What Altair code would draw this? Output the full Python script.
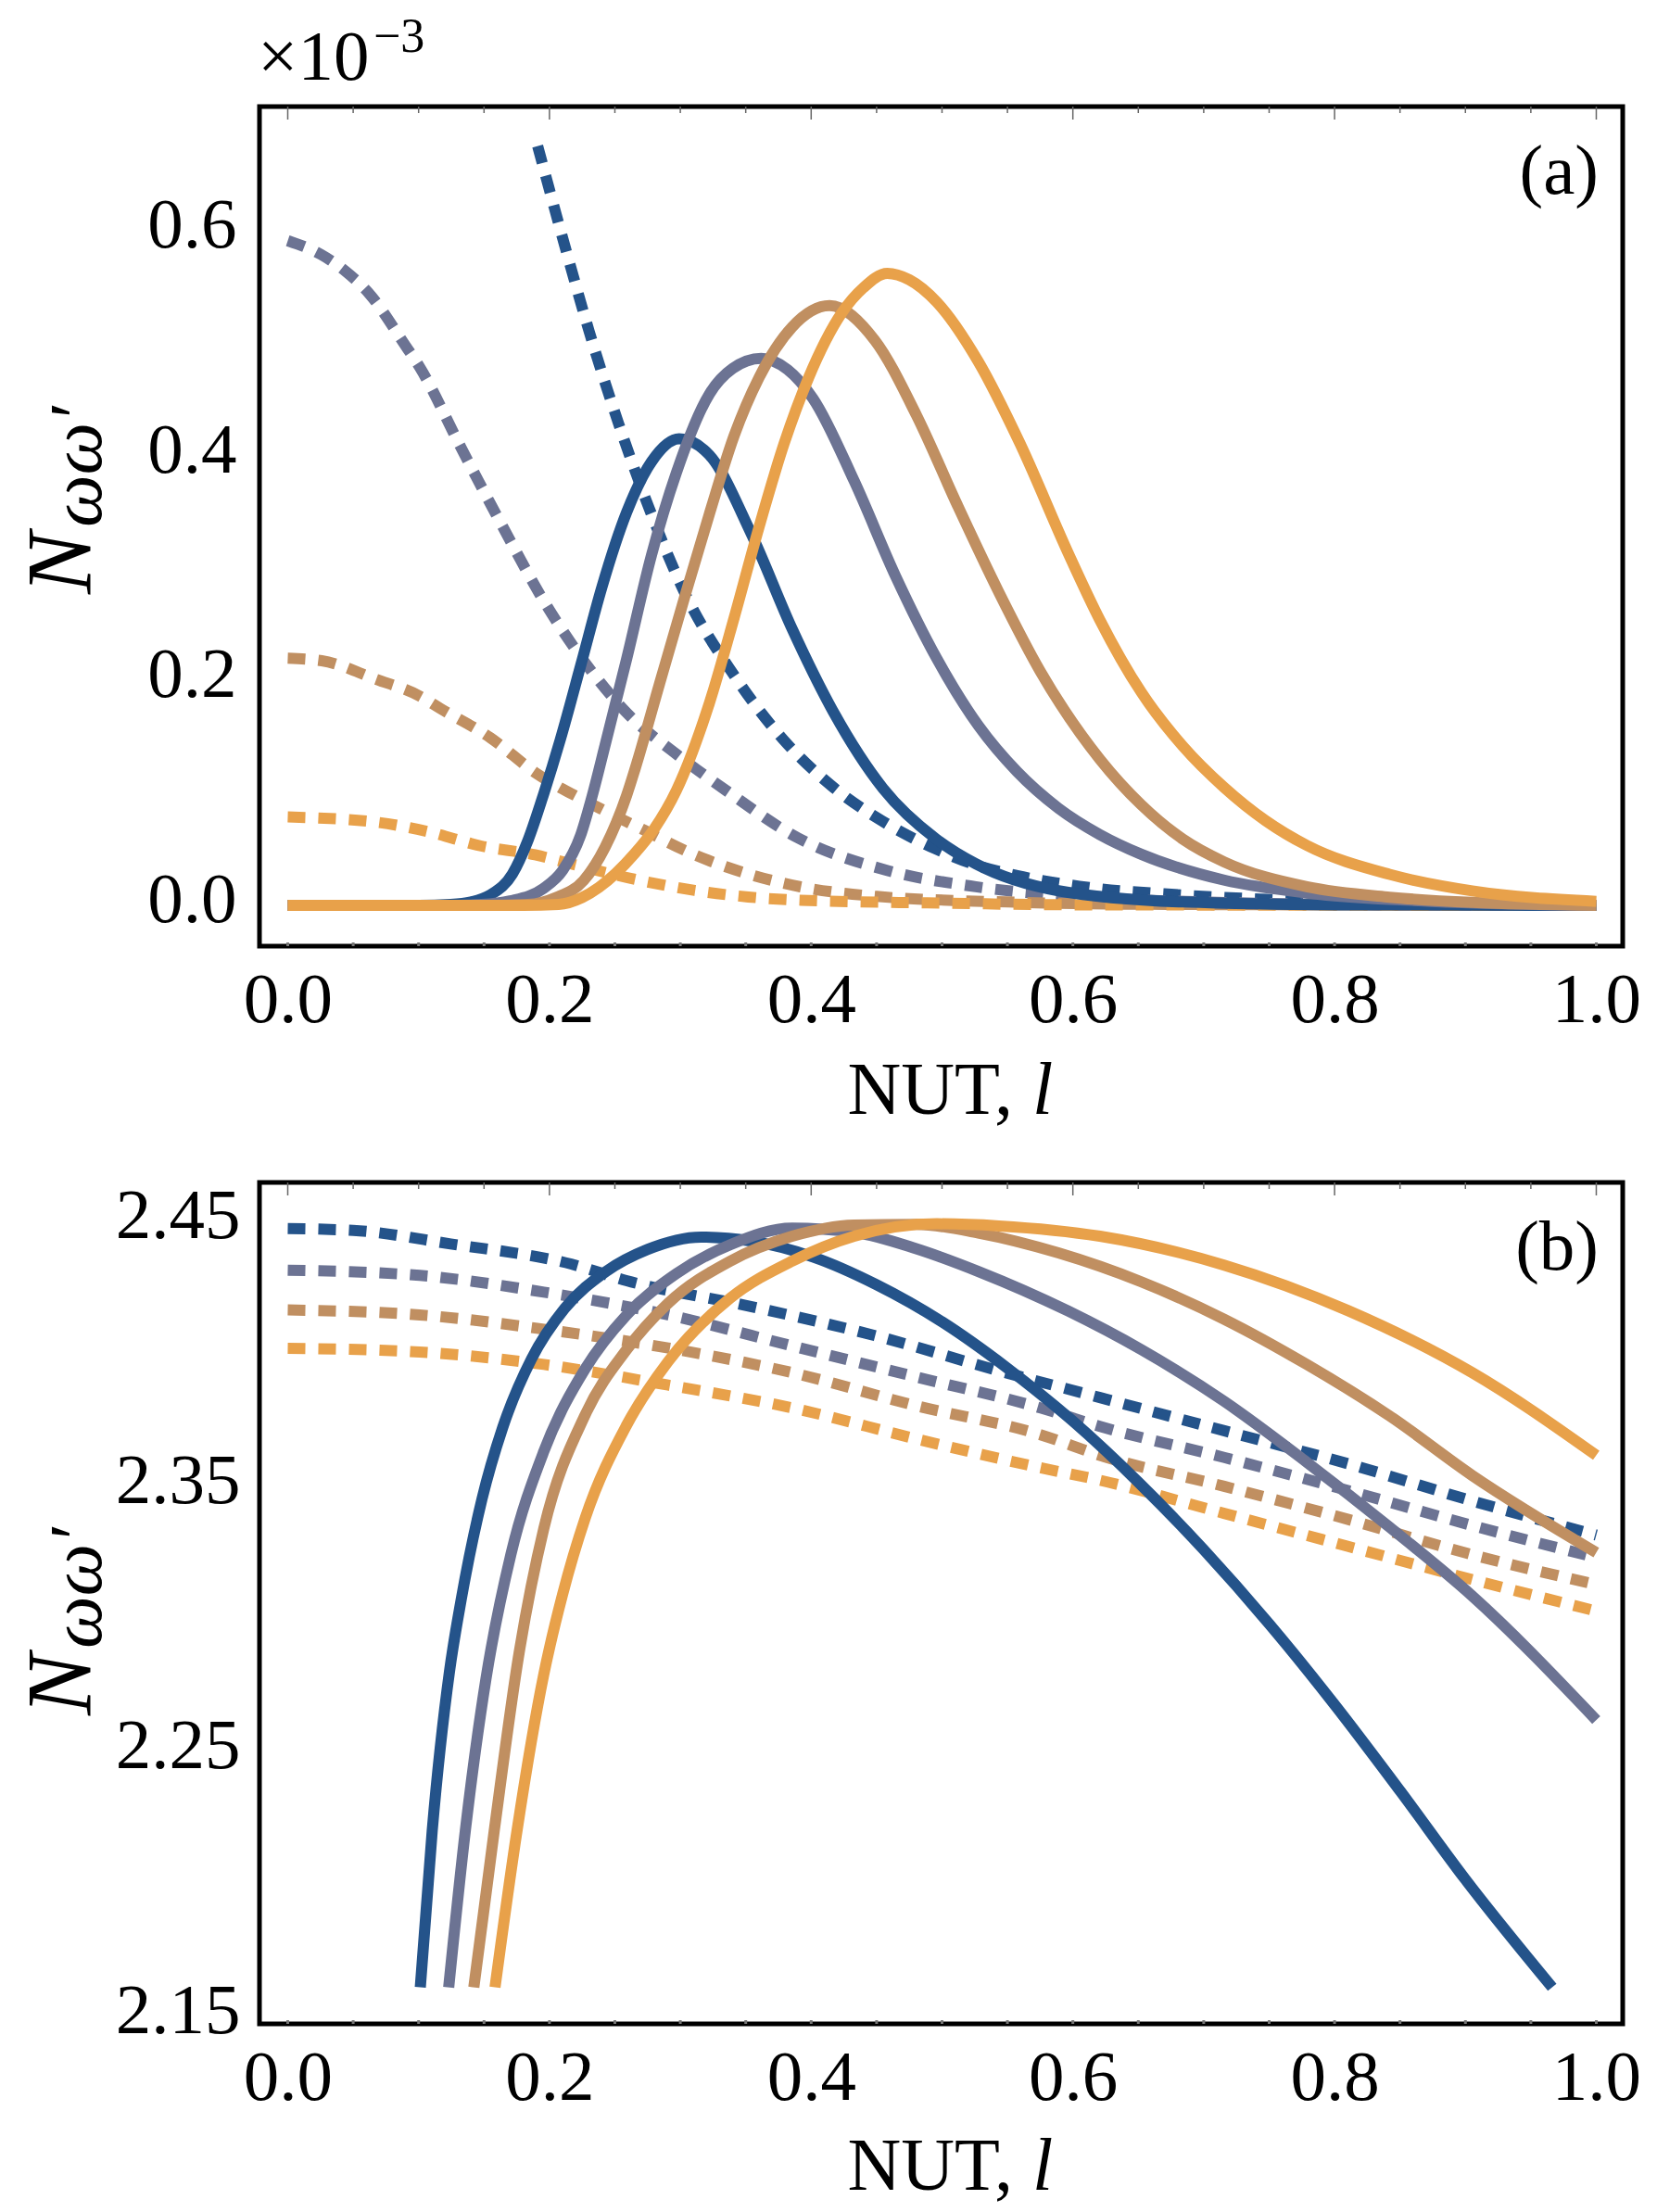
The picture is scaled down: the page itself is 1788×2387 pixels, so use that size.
import altair as alt
import pandas as pd

FONT = "Liberation Serif"
SERIES = ["q1", "q2", "q3", "q4"]
COLORS = ["#24538a", "#6c7393", "#c08f61", "#e8a14a"]

X_TICKS = [0.0, 0.2, 0.4, 0.6, 0.8, 1.0]
X_MINOR = [0.05, 0.1, 0.15, 0.25, 0.3, 0.35, 0.45, 0.5, 0.55, 0.65, 0.7, 0.75, 0.85, 0.9, 0.95]
YA_TICKS = [0.0, 0.2, 0.4, 0.6]
YB_TICKS = [2.15, 2.25, 2.35, 2.45]

# ---------- panel (a): N (x 1e-3) vs l ----------
A_SOLID_1 = [(0.0, 0.0), (0.10, 0.0), (0.1245, 0.0008), (0.14, 0.003), (0.155, 0.0095), (0.1717, 0.028),
             (0.1836, 0.058), (0.1958, 0.100), (0.2084, 0.148), (0.2242, 0.215), (0.240, 0.283),
             (0.259, 0.350), (0.278, 0.395), (0.2991, 0.4154), (0.3222, 0.401), (0.3538, 0.332),
             (0.3855, 0.246), (0.4171, 0.172), (0.455, 0.104), (0.4956, 0.059), (0.5258, 0.037),
             (0.589, 0.013), (0.684, 0.003), (0.80, 0.0005), (1.0, 0.0)]
A_SOLID_2 = [(0.0, 0.0), (0.12, 0.0), (0.148, 0.0008), (0.17, 0.004), (0.1953, 0.015), (0.21, 0.031),
             (0.2237, 0.062), (0.2321, 0.095), (0.2432, 0.1458), (0.259, 0.2195), (0.2779, 0.3115),
             (0.297, 0.3852), (0.3222, 0.4552), (0.340, 0.478), (0.3618, 0.487), (0.382, 0.477),
             (0.4013, 0.4515), (0.4329, 0.3778), (0.4645, 0.2931), (0.4961, 0.2195), (0.5278, 0.160),
             (0.5574, 0.119), (0.589, 0.0865), (0.6207, 0.063), (0.6523, 0.0455), (0.7156, 0.0225),
             (0.7788, 0.011), (0.8736, 0.0036), (1.0, 0.0)]
A_SOLID_3 = [(0.0, 0.0), (0.15, 0.0), (0.1836, 0.0008), (0.205, 0.007), (0.226, 0.022), (0.2426, 0.052),
             (0.259, 0.098), (0.2653, 0.121), (0.2843, 0.198), (0.3033, 0.2745), (0.3222, 0.3484),
             (0.3412, 0.4184), (0.3602, 0.470), (0.3855, 0.515), (0.414, 0.534), (0.4487, 0.503),
             (0.4803, 0.4368), (0.512, 0.3557), (0.5436, 0.2784), (0.5751, 0.2084), (0.6207, 0.130),
             (0.6523, 0.0895), (0.684, 0.059), (0.7156, 0.0387), (0.7788, 0.0166), (0.842, 0.0073),
             (0.9052, 0.0026), (1.0, 0.0)]
A_SOLID_4 = [(0.0, 0.0), (0.18, 0.0), (0.207, 0.0008), (0.225, 0.007), (0.2378, 0.016), (0.265, 0.046),
             (0.28, 0.068), (0.297, 0.1023), (0.3222, 0.180), (0.3412, 0.2563), (0.3602, 0.337),
             (0.3792, 0.4107), (0.3981, 0.470), (0.4234, 0.5275), (0.44, 0.550), (0.4582, 0.5627),
             (0.475, 0.557), (0.4961, 0.537), (0.5278, 0.484), (0.5593, 0.412), (0.5967, 0.313),
             (0.6207, 0.254), (0.6523, 0.1897), (0.684, 0.1418), (0.7156, 0.105), (0.7472, 0.0755),
             (0.7788, 0.0534), (0.842, 0.0276), (0.9052, 0.0129), (1.0, 0.0036)]

A_DASH_1 = [(0.191, 0.676), (0.2116, 0.5878), (0.2305, 0.5104), (0.2527, 0.4294), (0.2779, 0.3484),
            (0.3033, 0.2784), (0.3412, 0.2047), (0.3792, 0.147), (0.4171, 0.105), (0.4545, 0.075),
            (0.4956, 0.050), (0.5258, 0.036), (0.5574, 0.0265), (0.6049, 0.017), (0.684, 0.0092),
            (0.78, 0.004), (0.9, 0.001), (1.0, 0.0)]
A_DASH_2 = [(0.0, 0.5918), (0.0254, 0.5795), (0.0443, 0.5644), (0.062, 0.545), (0.0891, 0.4998),
            (0.1009, 0.479), (0.1325, 0.4073), (0.1642, 0.3373), (0.1957, 0.271), (0.2274, 0.2158),
            (0.259, 0.1715), (0.297, 0.1347), (0.335, 0.1023), (0.39, 0.060), (0.4585, 0.031),
            (0.5258, 0.0166), (0.60, 0.008), (0.70, 0.003), (0.80, 0.001), (1.0, 0.0)]
A_DASH_3 = [(0.0, 0.220), (0.026, 0.2178), (0.067, 0.2015), (0.1009, 0.1863), (0.1167, 0.1752),
            (0.1547, 0.1494), (0.1894, 0.118), (0.23, 0.0915), (0.27, 0.0683), (0.311, 0.045),
            (0.352, 0.028), (0.392, 0.0165), (0.45, 0.008), (0.55, 0.003), (0.65, 0.001), (1.0, 0.0)]
A_DASH_4 = [(0.0, 0.0787), (0.067, 0.0742), (0.108, 0.0654), (0.148, 0.0528), (0.189, 0.045),
            (0.214, 0.0377), (0.27, 0.022), (0.311, 0.0133), (0.352, 0.0075), (0.392, 0.0046),
            (0.5, 0.002), (0.6, 0.0005), (1.0, 0.0)]

# ---------- panel (b): N vs l ----------
B_SOLID_1 = [(0.1013, 2.1598), (0.1104, 2.2189), (0.1236, 2.279), (0.1325, 2.306), (0.1484, 2.344),
             (0.1642, 2.371), (0.1863, 2.397), (0.2116, 2.416), (0.2432, 2.430), (0.2748, 2.4383),
             (0.3159, 2.443), (0.3538, 2.4415), (0.4013, 2.4355), (0.45, 2.425), (0.50, 2.411),
             (0.55, 2.3935), (0.60, 2.3735), (0.65, 2.3505), (0.70, 2.325), (0.75, 2.297),
             (0.80, 2.2665), (0.85, 2.234), (0.90, 2.2005), (0.9663, 2.1598)]
B_SOLID_2 = [(0.123, 2.1598), (0.1357, 2.2189), (0.1515, 2.2763), (0.1705, 2.3231), (0.1957, 2.3621),
             (0.2274, 2.3933), (0.259, 2.4136), (0.297, 2.4292), (0.3381, 2.4401), (0.3855, 2.4464),
             (0.4329, 2.4448), (0.4803, 2.4386), (0.5278, 2.430), (0.5967, 2.415), (0.6523, 2.4005),
             (0.7156, 2.381), (0.7788, 2.358), (0.842, 2.3335), (0.9052, 2.3075), (1.0, 2.2607)]
B_SOLID_3 = [(0.1422, 2.1598), (0.1578, 2.2189), (0.1768, 2.286), (0.1957, 2.333), (0.2274, 2.376),
             (0.259, 2.4005), (0.2907, 2.418), (0.3381, 2.4339), (0.3855, 2.4433), (0.4329, 2.4475),
             (0.4803, 2.4478), (0.5278, 2.4445), (0.589, 2.437), (0.6523, 2.4261), (0.7156, 2.412),
             (0.7788, 2.3949), (0.842, 2.3755), (0.9052, 2.353), (1.0, 2.3239)]
B_SOLID_4 = [(0.1584, 2.1598), (0.1752, 2.2189), (0.1957, 2.278), (0.21, 2.308), (0.2274, 2.337),
             (0.259, 2.372), (0.2907, 2.396), (0.3381, 2.4199), (0.3855, 2.4339), (0.4329, 2.4433),
             (0.4961, 2.448), (0.5435, 2.4472), (0.6207, 2.4433), (0.7156, 2.4324), (0.8104, 2.4152),
             (0.9052, 2.3918), (1.0, 2.3606)]

B_DASH_1 = [(0.0, 2.4462), (0.05, 2.4455), (0.1245, 2.4404), (0.2166, 2.4328), (0.259, 2.4265),
            (0.3538, 2.4168), (0.4487, 2.4058), (0.5435, 2.3925), (0.6207, 2.3824), (0.7156, 2.3699),
            (0.8104, 2.3574), (0.9052, 2.3434), (1.0, 2.3305)]
B_DASH_2 = [(0.0, 2.4305), (0.1009, 2.4285), (0.1957, 2.4222), (0.2907, 2.4136), (0.3855, 2.4019),
            (0.4803, 2.3902), (0.5752, 2.3785), (0.6207, 2.3715), (0.7156, 2.3598), (0.8104, 2.3473),
            (0.9052, 2.3341), (1.0, 2.322)]
B_DASH_3 = [(0.0, 2.4155), (0.1009, 2.4136), (0.1957, 2.4082), (0.2907, 2.4011), (0.3855, 2.3918),
            (0.4803, 2.3793), (0.5752, 2.3684), (0.6207, 2.3606), (0.7156, 2.3489), (0.8104, 2.3364),
            (0.9052, 2.3231), (1.0, 2.3118)]
B_DASH_4 = [(0.0, 2.401), (0.1009, 2.3996), (0.1957, 2.3949), (0.2907, 2.3871), (0.3855, 2.3785),
            (0.4803, 2.3668), (0.5752, 2.3559), (0.6207, 2.3512), (0.7156, 2.3387), (0.8104, 2.3262),
            (0.9052, 2.3137), (1.0, 2.3018)]


def to_df(curves):
    rows = []
    for name, pts in zip(SERIES, curves):
        for i, (l, n) in enumerate(pts):
            rows.append({"series": name, "l": l, "N": n, "i": i})
    return pd.DataFrame(rows)


X_DOMAIN = [-0.0216, 1.0202]
W = 1471


def panel(solid, dashed, ydomain, yticks, yfmt, letter, lab_pad, lab_off, height, exponent, title_y):
    xs = alt.Scale(domain=X_DOMAIN, nice=False, zero=False)
    ys = alt.Scale(domain=ydomain, nice=False, zero=False)
    xaxis = alt.Axis(values=X_TICKS, format=".1f", title=None, ticks=False, domain=False, grid=False,
                     labelFont=FONT, labelFontSize=77, labelPadding=20, labelFlush=False,
                     labelOverlap=False, labelColor="black")
    yaxis = alt.Axis(values=yticks, format=yfmt, title=None, ticks=False, domain=False, grid=False,
                     labelFont=FONT, labelFontSize=77, labelPadding=lab_pad, labelOffset=lab_off,
                     labelFlush=False, labelOverlap=False, labelColor="black")
    color = alt.Color("series:N", scale=alt.Scale(domain=SERIES, range=COLORS), legend=None)

    dashed_layer = alt.Chart(to_df(dashed)).mark_line(
        strokeWidth=12, strokeDash=[19, 14], interpolate="monotone", clip=True
    ).encode(x=alt.X("l:Q", scale=xs, axis=xaxis), y=alt.Y("N:Q", scale=ys, axis=yaxis),
             color=color, order="i:Q")
    solid_layer = alt.Chart(to_df(solid)).mark_line(
        strokeWidth=12, interpolate="monotone", clip=True
    ).encode(x=alt.X("l:Q", scale=xs, axis=xaxis), y=alt.Y("N:Q", scale=ys, axis=yaxis),
             color=color, order="i:Q")

    major = alt.Chart(pd.DataFrame({"t": X_TICKS})).mark_rule(color="#666666", strokeWidth=1.5).encode(
        x=alt.X("t:Q", scale=xs, axis=xaxis), y=alt.value(0), y2=alt.value(14))
    minor = alt.Chart(pd.DataFrame({"t": X_MINOR})).mark_rule(color="#666666", strokeWidth=1.5).encode(
        x=alt.X("t:Q", scale=xs, axis=xaxis), y=alt.value(0), y2=alt.value(7))
    bottom = alt.Chart(pd.DataFrame({"t": X_TICKS + X_MINOR})).mark_rule(color="#777777", strokeWidth=3).encode(
        x=alt.X("t:Q", scale=xs, axis=xaxis), y=alt.value(height - 4), y2=alt.value(height))

    def txt(s, x, y, size, align="left", baseline="alphabetic", italic=False, angle=0):
        kw = dict(font=FONT, fontSize=size, align=align, baseline=baseline, color="black")
        if italic:
            kw["fontStyle"] = "italic"
        if angle:
            kw["angle"] = angle
        return alt.Chart(pd.DataFrame({"s": [s]})).mark_text(**kw).encode(
            text="s:N", x=alt.value(x), y=alt.value(y))

    layers = [dashed_layer, solid_layer, major, minor, bottom,
              txt(letter, 1445, 71, 77, align="right", baseline="middle"),
              txt("N", -183, title_y, 100, italic=True, angle=270),
              txt("\u03c9\u03c9\u2032", -171, title_y - 72, 80, italic=True, angle=270),
              txt("NUT,", 813, 1087, 80, align="right"),
              txt("l", 834, 1087, 80, italic=True)]
    if exponent:
        layers += [txt("\u00d710", -2, -29, 77), txt("\u22123", 123, -59, 52)]
    return alt.layer(*layers).properties(width=W, height=height)


panel_a = panel([A_SOLID_1, A_SOLID_2, A_SOLID_3, A_SOLID_4],
                [A_DASH_1, A_DASH_2, A_DASH_3, A_DASH_4],
                [-0.0363, 0.7112], YA_TICKS, ".1f", "(a)", 25, -6, 906, True, 526)
panel_b = panel([B_SOLID_1, B_SOLID_2, B_SOLID_3, B_SOLID_4],
                [B_DASH_1, B_DASH_2, B_DASH_3, B_DASH_4],
                [2.146, 2.4636], YB_TICKS, ".2f", "(b)", 21, -2, 908, False, 575)

chart = alt.vconcat(panel_a, panel_b, spacing=50).properties(
    padding={"left": 6, "top": 3, "right": 5, "bottom": 5}
).configure(background="white").configure_view(stroke="black", strokeWidth=5)

chart.save("out.html", embed_options={"renderer": "svg", "actions": False})
